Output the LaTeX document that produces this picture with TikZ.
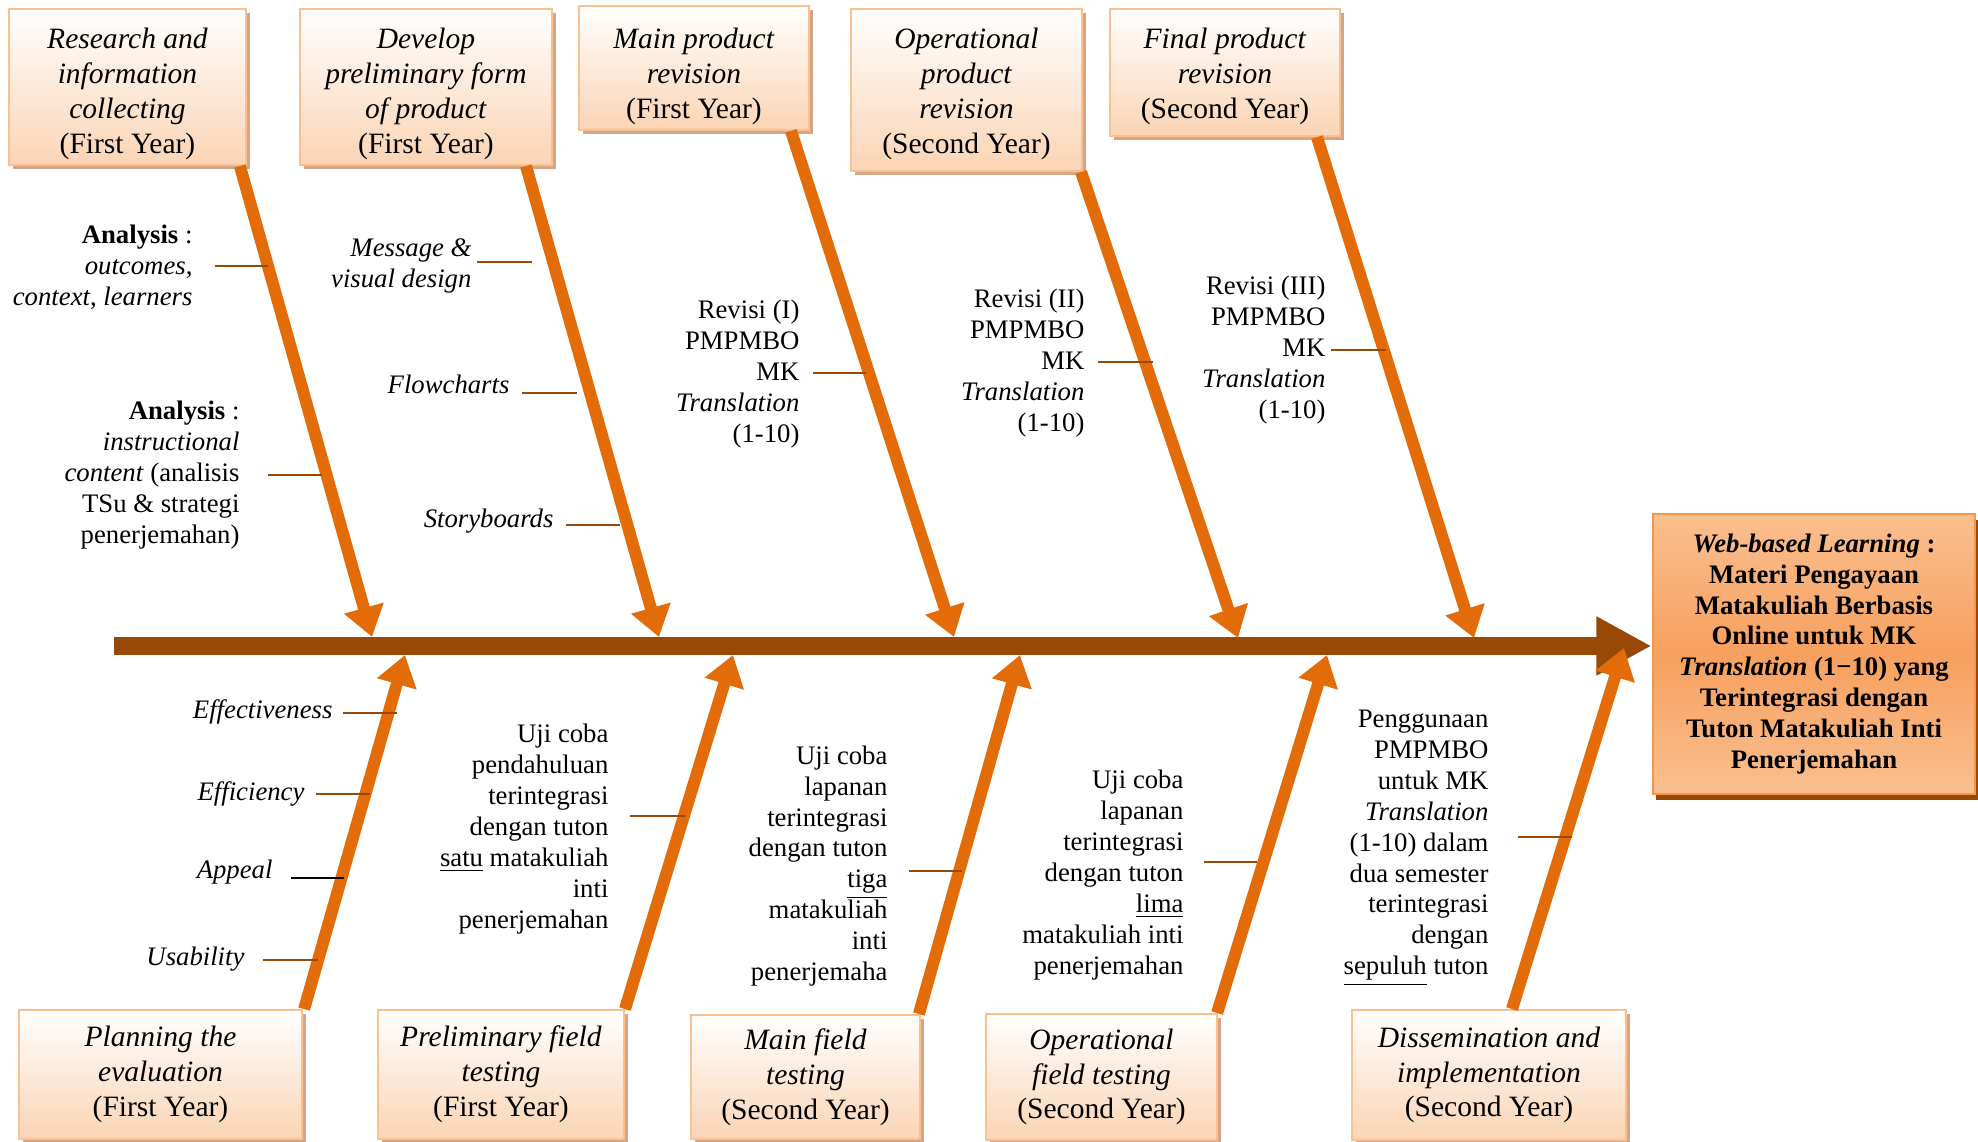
\documentclass[tikz,border=0pt]{standalone}
\usepackage{fontspec}
\setmainfont{Liberation Serif}
\usepackage{tikz}
\usetikzlibrary{arrows.meta, shadows, calc}

\definecolor{spinebrown}{RGB}{152,72,7}
\definecolor{boneorange}{RGB}{227,108,9}
\definecolor{boxline}{RGB}{250,192,144}
\definecolor{boxpeach}{RGB}{251,212,180}
\definecolor{boxshade}{RGB}{212,166,134}
\definecolor{goalline}{RGB}{247,150,70}
\definecolor{goallight}{RGB}{250,191,143}
\definecolor{goalmid}{RGB}{247,160,95}

\begin{document}
\begin{tikzpicture}[x=0.0125cm, y=-0.0125cm]
\tikzstyle{stage}=[draw=boxline, line width=0.7pt, top color=white, bottom color=boxpeach, align=center, inner sep=2pt, font=\fontsize{10.5}{12.4}\selectfont, general shadow={fill=boxshade, shadow xshift=0.05cm, shadow yshift=-0.05cm}]
\tikzstyle{goal}=[draw=goalline, line width=1pt, top color=goallight, bottom color=goallight, middle color=goalmid, align=center, font=\fontsize{9.5}{11}\selectfont\bfseries, general shadow={fill=spinebrown, shadow xshift=0.04cm, shadow yshift=-0.075cm}]
\tikzstyle{cause}=[anchor=east, align=right, inner sep=0pt, font=\fontsize{9.5}{11}\selectfont]
\tikzstyle{bone}=[color=boneorange, line width=0.15cm, -{Triangle[length=0.375cm, width=0.49cm]}]
\tikzstyle{spine}=[color=spinebrown, line width=0.225cm, -{Triangle[length=0.69cm, width=0.69cm]}]
\tikzstyle{tick}=[draw=spinebrown, line width=0.8pt]

\useasboundingbox (0,0) rectangle (1978,1142);

        % stages above the spine
        \node[stage, minimum width=2.96cm, minimum height=1.95cm]   (t1) at (127.5,87)  {\rule{0pt}{12pt}\textit{Research and}\\\textit{information}\\\textit{collecting}\\(First Year)};
        \node[stage, minimum width=3.15cm, minimum height=1.95cm]   (t2) at (426,87)    {\rule{0pt}{12pt}\textit{Develop}\\\textit{preliminary form}\\\textit{of product}\\(First Year)};
        \node[stage, minimum width=2.875cm, minimum height=1.475cm] (t3) at (694,68)    {\rule{0pt}{13pt}\textit{Main product}\\\textit{revision}\\(First Year)};
        \node[stage, minimum width=2.89cm, minimum height=2.025cm]  (t4) at (966.5,90)  {\rule{0pt}{10pt}\textit{Operational}\\\textit{product}\\\textit{revision}\\(Second Year)};
        \node[stage, minimum width=2.875cm, minimum height=1.59cm]  (t5) at (1225,72.5) {\rule{0pt}{10pt}\textit{Final product}\\\textit{revision}\\(Second Year)};

        % stages below the spine
        \node[stage, minimum width=3.54cm, minimum height=1.61cm]   (b1) at (160.5,1074.5) {\textit{Planning the}\\\textit{evaluation}\\(First Year)};
        \node[stage, minimum width=3.075cm, minimum height=1.61cm]  (b2) at (501,1074.5)   {\textit{Preliminary field}\\\textit{testing}\\(First Year)};
        \node[stage, minimum width=2.86cm, minimum height=1.55cm]   (b3) at (805.5,1077)   {\textit{Main field}\\\textit{testing}\\(Second Year)};
        \node[stage, minimum width=2.89cm, minimum height=1.575cm]  (b4) at (1101.5,1077)  {\textit{Operational}\\\textit{field testing}\\(Second Year)};
        \node[stage, minimum width=3.425cm, minimum height=1.625cm] (b5) at (1489,1075)    {\textit{Dissemination and}\\\textit{implementation}\\(Second Year)};

        % the head
        \node[goal, minimum width=4.025cm, minimum height=3.5cm]    (E) at (1814,654)
            {\textit{Web-based Learning} :\\Materi Pengayaan\\Matakuliah Berbasis\\Online untuk MK\\\textit{Translation} (1−10) yang\\Terintegrasi dengan\\Tuton Matakuliah Inti\\Penerjemahan};

        % spine and the points where the bones meet it
        \coordinate (tail) at (114,646);
        \draw[spine] (tail) -- (tail -| E.west);

        \coordinate (s1) at (372,637);
        \coordinate (s2) at (659,637);
        \coordinate (s3) at (954,637);
        \coordinate (s4) at (1238,638);
        \coordinate (s5) at (1474,638);
        \coordinate (s6) at (405,655);
        \coordinate (s7) at (733,655);
        \coordinate (s8) at (1020,655);
        \coordinate (s9) at (1327,655);
        \coordinate (s10) at (1624,648);

        \path[bone]
        ($(t1.south east)+(-7,0)$)  edge (s1)
        ($(t2.south east)+(-27,0)$) edge (s2)
        ($(t3.south east)+(-19,0)$) edge (s3)
        ($(t4.south east)+(-2,0)$)  edge (s4)
        ($(t5.south east)+(-24,0)$) edge (s5)
        ($(b1.north east)+(1,0)$)   edge (s6)
        (b2.north east)             edge (s7)
        ($(b3.north east)+(-2,0)$)  edge (s8)
        ($(b4.north east)+(-1,0)$)  edge (s9)
        ($(b5.north)+(23,0)$)       edge (s10)
        ; %end path

        % causes
        \node[cause] (a1) at (193,267)  {\textbf{Analysis} :\\\textit{outcomes},\\\textit{context}, \textit{learners}};
        \node[cause] (a2) at (240,475)  {\textbf{Analysis} :\\\textit{instructional}\\\textit{content} (analisis\\TSu \& strategi\\penerjemahan)};
        \node[cause] (m1) at (472,266)  {\textit{Message \&}\\\textit{visual design}};
        \node[cause] (m2) at (510,384)  {\textit{Flowcharts}};
        \node[cause] (m3) at (554,521)  {\textit{Storyboards}};
        \node[cause] (r1) at (800,374)  {Revisi (I)\\PMPMBO\\MK\\\textit{Translation}\\(1-10)};
        \node[cause] (r2) at (1085,363) {Revisi (II)\\PMPMBO\\MK\\\textit{Translation}\\(1-10)};
        \node[cause] (r3) at (1326,350) {Revisi (III)\\PMPMBO\\MK\\\textit{Translation}\\(1-10)};
        \node[cause] (e1) at (333,712)  {\textit{Effectiveness}};
        \node[cause] (e2) at (305,794)  {\textit{Efficiency}};
        \node[cause] (e3) at (273,872)  {\textit{Appeal}};
        \node[cause] (e4) at (245,959)  {\textit{Usability}};
        \node[cause] (u1) at (609,829)  {Uji coba\\pendahuluan\\terintegrasi\\dengan tuton\\\underline{satu} matakuliah\\inti\\penerjemahan};
        \node[cause] (u2) at (888,866)  {Uji coba\\lapanan\\terintegrasi\\dengan tuton\\\underline{tiga}\\matakuliah\\inti\\penerjemaha};
        \node[cause] (u3) at (1184,875) {Uji coba\\lapanan\\terintegrasi\\dengan tuton\\\underline{lima}\\matakuliah inti\\penerjemahan};
        \node[cause] (p1) at (1489,848) {Penggunaan\\PMPMBO\\untuk MK\\\textit{Translation}\\(1-10) dalam\\dua semester\\terintegrasi\\dengan\\\underline{sepuluh} tuton};

        % ticks from the causes to the bones
        \draw[tick] ($(a1.east)+(22,-1)$)  -- ++(53,0);
        \draw[tick] ($(a2.east)+(28,0)$)   -- ++(54,0);
        \draw[tick] ($(m1.east)+(5,-4)$)   -- ++(55,0);
        \draw[tick] ($(m2.east)+(12,9)$)   -- ++(55,0);
        \draw[tick] ($(m3.east)+(12,4)$)   -- ++(54,0);
        \draw[tick] ($(r1.east)+(13,-1)$)  -- ++(53,0);
        \draw[tick] ($(r2.east)+(13,-1)$)  -- ++(55,0);
        \draw[tick] ($(r3.east)+(5,0)$)    -- ++(55,0);
        \draw[tick] ($(e1.east)+(10,1)$)   -- ++(54,0);
        \draw[tick] ($(e2.east)+(11,0)$)   -- ++(54,0);
        \draw[tick, draw=black] ($(e3.east)+(18,6)$) -- ++(53,0);
        \draw[tick] ($(e4.east)+(18,1)$)   -- ++(55,0);
        \draw[tick] ($(u1.east)+(21,-13)$) -- ++(55,0);
        \draw[tick] ($(u2.east)+(21,5)$)   -- ++(53,0);
        \draw[tick] ($(u3.east)+(20,-13)$) -- ++(53,0);
        \draw[tick] ($(p1.east)+(29,-11)$) -- ++(54,0);

\end{tikzpicture}
\end{document}
